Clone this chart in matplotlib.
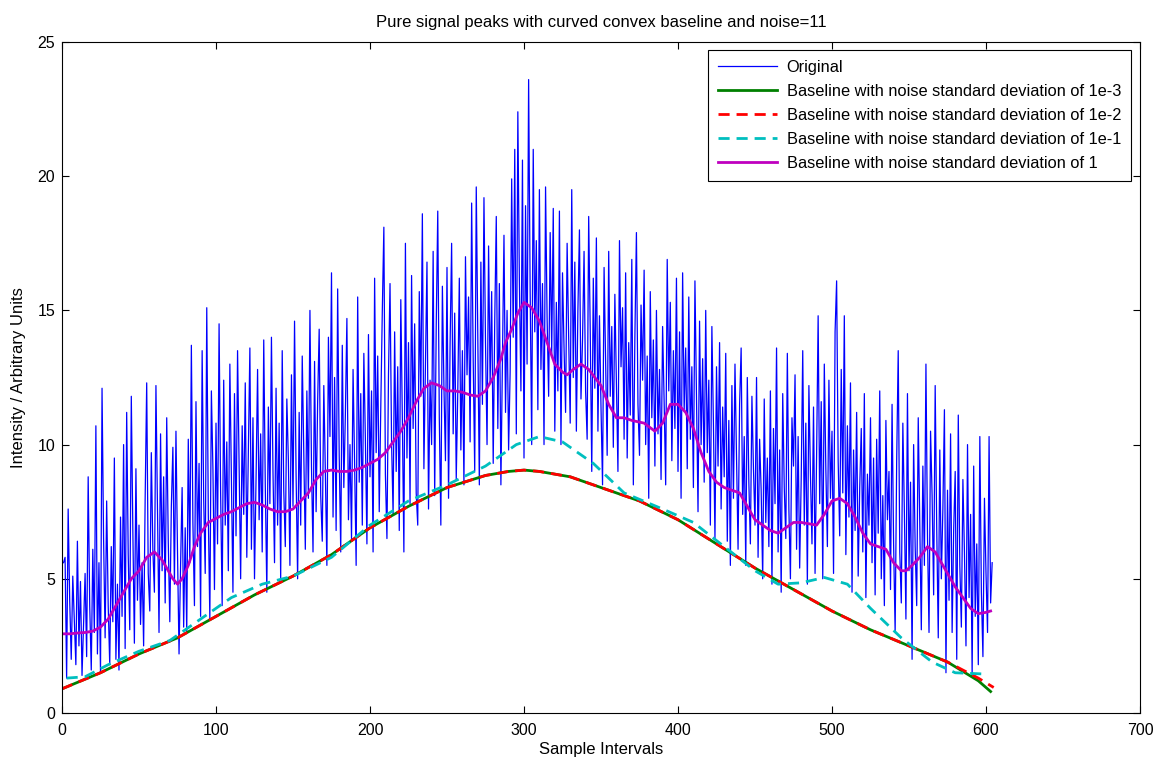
import numpy as np
import matplotlib
matplotlib.use("Agg")
import matplotlib.pyplot as plt

plt.rcParams['font.family'] = ['Liberation Sans', 'DejaVu Sans']

# ---------------- data ----------------
original = [
 5.6, 5.8, 1.3, 7.6, 4.2, 2.0, 5.1, 3.5, 1.8, 6.4, 2.5, 4.9, 1.4, 3.3, 5.2, 2.1, 8.8, 4.0, 1.6, 6.1,
 3.0, 10.7, 2.2, 5.6, 1.5, 12.1, 6.5, 2.8, 7.9, 4.0, 1.8, 6.2, 3.4, 9.5, 2.0, 4.8, 1.6, 7.3, 3.6, 10.0,
 2.4, 11.2, 5.9, 3.1, 11.8, 6.8, 2.6, 9.1, 4.2, 7.0, 3.3, 5.6, 2.5, 8.0, 12.3, 5.2, 3.8, 9.7, 6.1, 4.5,
 12.2, 7.5, 3.0, 10.4, 5.3, 8.8, 4.1, 11.0, 6.4, 3.4, 7.7, 9.9, 4.8, 10.5, 6.0, 2.2, 5.5, 8.4, 3.2, 6.9,
 3.0, 10.2, 5.6, 13.7, 7.1, 4.0, 11.6, 6.2, 9.3, 3.6, 13.5, 8.0, 5.2, 15.1, 7.4, 3.5, 12.0, 9.1, 4.6, 10.8,
 6.3, 14.5, 8.2, 4.0, 12.4, 7.0, 10.1, 5.3, 13.0, 8.8, 4.5, 11.9, 6.6, 13.5, 9.2, 5.0, 10.7, 7.4, 12.3, 5.8,
 9.6, 13.6, 6.1, 11.0, 5.0, 8.7, 12.8, 7.2, 10.4, 6.0, 13.9, 8.5, 4.5, 11.4, 7.8, 14.0, 9.0, 5.6, 12.1, 7.0,
 10.8, 5.0, 13.5, 8.3, 6.2, 11.7, 9.4, 5.5, 12.6, 7.7, 14.6, 8.9, 5.0, 11.2, 7.0, 13.3, 9.8, 6.1, 12.0, 8.0,
 15.0, 9.2, 6.0, 13.1, 7.5, 11.6, 14.3, 8.1, 6.4, 12.2, 9.0, 5.5, 14.0, 10.3, 16.4, 7.3, 12.5, 6.8, 15.8, 9.6,
 6.0, 13.7, 8.4, 11.1, 14.7, 7.2, 10.0, 6.5, 12.8, 9.3, 5.5, 15.5, 8.6, 11.9, 7.0, 13.4, 10.2, 6.3, 14.1, 8.8,
 12.0, 6.0, 16.2, 9.7, 13.3, 7.5, 11.4, 15.0, 18.1, 8.9, 6.5, 12.6, 16.0, 10.1, 7.4, 14.2, 9.0, 12.9, 6.8, 15.4,
 11.0, 6.0, 17.5, 9.5, 13.8, 7.8, 16.3, 10.6, 14.5, 8.2, 7.0, 15.7, 11.8, 18.6, 9.1, 13.0, 16.8, 7.6, 12.4, 10.0,
 17.2, 8.1, 14.4, 18.7, 11.0, 7.0, 15.9, 12.2, 9.4, 16.6, 8.0, 13.7, 17.5, 10.4, 14.9, 8.7, 12.0, 16.2, 9.8, 13.5,
 8.5, 17.0, 12.6, 15.5, 10.1, 19.0, 13.2, 9.0, 19.6, 14.1, 8.5, 16.8, 11.5, 19.2, 13.8, 10.0, 17.4, 12.3, 15.7, 9.3,
 14.6, 18.5, 10.6, 16.0, 8.5, 13.1, 17.8, 11.2, 15.0, 9.8, 12.7, 19.9, 14.0, 21.0, 10.4, 22.4, 16.1, 12.0, 20.6, 9.5,
 18.9, 13.0, 23.6, 15.7, 10.0, 21.0, 14.2, 17.6, 11.3, 19.5, 12.8, 16.0, 10.0, 19.6, 14.7, 11.8, 17.9, 13.4, 18.8, 10.5,
 15.3, 12.0, 18.7, 10.0, 16.4, 13.6, 11.2, 17.5, 14.0, 10.8, 19.5, 12.5, 16.8, 10.5, 15.0, 18.0, 11.7, 13.9, 17.2, 12.0,
 10.2, 18.5, 14.3, 9.0, 16.2, 12.1, 17.7, 10.5, 14.8, 11.4, 8.5, 16.6, 13.0, 9.6, 17.2, 11.8, 14.4, 9.9, 15.6, 12.3,
 9.0, 17.6, 12.9, 15.1, 10.2, 16.4, 9.5, 13.8, 11.1, 16.9, 8.5, 14.0, 17.9, 11.5, 9.6, 15.2, 12.4, 16.5, 10.0, 13.3,
 8.0, 15.7, 11.0, 13.9, 9.2, 15.0, 10.4, 12.8, 8.7, 14.4, 11.6, 8.5, 16.9, 12.0, 15.3, 9.4, 13.5, 10.6, 16.2, 9.0,
 14.2, 8.0, 16.4, 11.3, 13.6, 9.1, 15.5, 10.2, 12.9, 8.4, 16.1, 11.8, 7.5, 14.6, 10.0, 13.2, 8.6, 15.0, 9.7, 12.4,
 7.0, 14.4, 10.8, 6.5, 12.9, 9.2, 13.8, 7.6, 11.4, 8.8, 13.4, 6.4, 10.9, 5.5, 12.2, 8.0, 13.0, 9.6, 6.1, 11.5,
 13.6, 7.4, 10.3, 5.5, 12.5, 8.6, 6.3, 11.8, 9.1, 7.0, 12.5, 5.8, 10.2, 8.3, 5.0, 11.7, 7.1, 9.5, 6.2, 12.0,
 4.8, 10.6, 7.8, 13.6, 6.0, 9.8, 4.5, 11.9, 8.4, 6.5, 13.4, 7.6, 5.0, 11.0, 9.2, 12.6, 6.1, 10.3, 5.4, 8.7,
 13.5, 7.0, 10.8, 4.8, 12.2, 8.9, 6.3, 11.4, 5.2, 9.6, 14.8, 7.8, 11.6, 5.0, 13.0, 9.1, 6.2, 12.4, 8.0, 10.5,
 5.2, 14.2, 16.1, 9.4, 6.6, 12.8, 8.2, 14.8, 5.9, 10.7, 7.3, 12.3, 4.5, 9.8, 6.8, 11.2, 5.1, 8.4, 10.6, 6.0,
 11.9, 4.3, 8.9, 7.0, 11.0, 5.6, 9.5, 4.4, 10.2, 6.7, 12.0, 5.0, 8.1, 4.0, 10.9, 7.2, 9.0, 4.6, 11.5, 6.3,
 3.0, 9.4, 13.5, 6.0, 4.1, 10.8, 7.5, 3.5, 11.9, 5.3, 8.6, 2.0, 10.0, 6.2, 4.0, 11.0, 7.0, 3.1, 9.2, 5.5,
 13.0, 6.6, 3.0, 10.5, 8.1, 4.4, 12.2, 6.9, 2.8, 9.8, 5.0, 7.6, 11.3, 1.5, 8.3, 4.2, 10.4, 3.0, 6.8, 9.0,
 2.0, 11.1, 5.5, 3.2, 8.7, 6.0, 2.5, 10.0, 4.3, 7.4, 1.4, 9.2, 3.6, 6.3, 1.8, 10.3, 4.5, 2.1, 8.0, 5.2,
 3.0, 10.3, 4.1, 5.6,
]

base3_x = [0, 25, 50, 75, 100, 125, 150, 175, 200, 225, 250, 275, 290, 300, 310, 330, 350, 375, 400,
           425, 450, 475, 500, 525, 550, 575, 595, 603]
base3_y = [0.9, 1.5, 2.2, 2.8, 3.6, 4.4, 5.1, 5.9, 6.9, 7.7, 8.4, 8.85, 9.0, 9.05, 9.0, 8.8, 8.4, 7.9, 7.2,
           6.3, 5.4, 4.6, 3.8, 3.1, 2.5, 1.9, 1.2, 0.8]

base2_x = [0, 25, 50, 75, 100, 125, 150, 175, 200, 225, 250, 275, 290, 300, 310, 330, 350, 375, 400,
           425, 450, 475, 500, 525, 550, 575, 595, 605]
base2_y = [0.9, 1.5, 2.2, 2.8, 3.6, 4.4, 5.1, 5.9, 6.9, 7.7, 8.4, 8.85, 9.0, 9.05, 9.0, 8.8, 8.4, 7.9, 7.2,
           6.3, 5.4, 4.6, 3.8, 3.1, 2.5, 1.9, 1.3, 0.95]

base1_x = [3, 15, 30, 50, 70, 90, 110, 130, 150, 175, 200, 225, 250, 275, 295, 310, 325, 345, 365,
           390, 410, 430, 450, 465, 480, 495, 510, 525, 545, 565, 580, 600]
base1_y = [1.3, 1.35, 1.8, 2.3, 2.7, 3.5, 4.3, 4.8, 5.1, 5.8, 7.0, 7.9, 8.5, 9.2, 10.0, 10.3, 10.1,
           9.3, 8.2, 7.6, 7.1, 6.2, 5.3, 4.8, 4.85, 5.05, 4.8, 3.9, 2.8, 1.9, 1.5, 1.45]

base0_x = [0, 5, 10, 15, 20, 25, 30, 35, 40, 45, 50, 55, 60, 65, 70, 72, 75, 78, 82, 86, 90, 95,
           100, 105, 110, 115, 120, 125, 130, 135, 140, 145, 150, 155, 160, 165, 170, 175, 180, 185,
           190, 195, 200, 205, 210, 215, 220, 225, 230, 235, 240, 245, 250, 255, 260, 265, 270, 275,
           280, 285, 288, 292, 296, 300, 305, 310, 315, 320, 325, 328, 332, 337, 342, 346, 350, 355,
           360, 365, 370, 378, 385, 390, 395, 400, 405, 410, 415, 420, 425, 430, 435, 440, 445, 450,
           455, 460, 465, 470, 475, 480, 485, 490, 495, 500, 505, 510, 515, 520, 525, 530, 535, 540,
           545, 548, 552, 557, 562, 567, 572, 577, 580, 585, 590, 595, 600, 603]
base0_y = [2.95, 2.95, 2.98, 3.0, 3.05, 3.2, 3.5, 4.0, 4.5, 5.0, 5.3, 5.8, 6.0, 5.7, 5.2, 5.0, 4.8,
           5.0, 5.5, 6.2, 6.7, 7.1, 7.25, 7.4, 7.5, 7.65, 7.8, 7.85, 7.75, 7.6, 7.5, 7.5, 7.6, 7.9,
           8.2, 8.7, 9.0, 9.05, 9.0, 9.0, 9.05, 9.15, 9.3, 9.45, 9.7, 10.1, 10.5, 11.0, 11.6, 12.1,
           12.3, 12.2, 12.0, 12.0, 11.95, 11.85, 11.8, 12.0, 12.5, 13.2, 13.8, 14.3, 14.9, 15.3, 15.1,
           14.6, 13.8, 13.0, 12.7, 12.6, 12.8, 13.0, 12.8, 12.5, 12.2, 11.5, 11.0, 11.0, 10.9, 10.8,
           10.5, 10.8, 11.5, 11.5, 11.2, 10.6, 9.7, 9.0, 8.6, 8.4, 8.3, 8.2, 7.7, 7.2, 7.0, 6.8, 6.7,
           6.9, 7.1, 7.1, 7.05, 7.0, 7.4, 7.9, 8.0, 7.8, 7.3, 6.7, 6.3, 6.2, 6.1, 5.6, 5.3, 5.3, 5.5,
           5.8, 6.2, 6.0, 5.5, 5.0, 4.7, 4.3, 3.9, 3.7, 3.75, 3.8]

labels = ["Original",
          "Baseline with noise standard deviation of 1e-3",
          "Baseline with noise standard deviation of 1e-2",
          "Baseline with noise standard deviation of 1e-1",
          "Baseline with noise standard deviation of 1"]

# ---------------- plot ----------------
fig = plt.figure(figsize=(11.55, 7.6), dpi=100)
ax = fig.add_axes([62/1155, 47/760, (1140-62)/1155, (713-42)/760])

x_orig = np.arange(1, len(original) + 1)
ax.plot(x_orig, original, color=(0, 0, 1), lw=0.9, label=labels[0])
ax.plot(base3_x, base3_y, color=(0, 0.5, 0), lw=2, label=labels[1])
ax.plot(base2_x, base2_y, color=(1, 0, 0), lw=2, ls=(0, (4, 2.5)), label=labels[2])
ax.plot(base1_x, base1_y, color=(0, 0.75, 0.75), lw=2, ls=(0, (4, 2.5)), label=labels[3])
ax.plot(base0_x, base0_y, color=(0.75, 0, 0.75), lw=2, label=labels[4])

ax.set_xlim(0, 700)
ax.set_ylim(0, 25)
ax.set_xticks(range(0, 701, 100))
ax.set_yticks(range(0, 26, 5))
ax.tick_params(direction='in', length=5, labelsize=11.5, top=True, right=True,
               labeltop=False, labelright=False)
ax.tick_params(axis='x', pad=7)
ax.tick_params(axis='y', pad=5)
for s in ax.spines.values():
    s.set_linewidth(0.8)

ax.set_title("Pure signal peaks with curved convex baseline and noise=11", fontsize=12, pad=11)
ax.set_xlabel("Sample Intervals", fontsize=12, labelpad=3)
ax.set_ylabel("Intensity / Arbitrary Units", fontsize=12, labelpad=8)

leg = ax.legend(loc='upper right', fontsize=11.8, fancybox=False, edgecolor='black',
                framealpha=1, bbox_to_anchor=(1131/1155, (760-50)/760),
                bbox_transform=fig.transFigure, borderaxespad=0.0, handlelength=3.6,
                handletextpad=0.6, labelspacing=0.55, borderpad=0.6)
leg.get_frame().set_linewidth(0.8)

fig.savefig("out.png", dpi=100)
